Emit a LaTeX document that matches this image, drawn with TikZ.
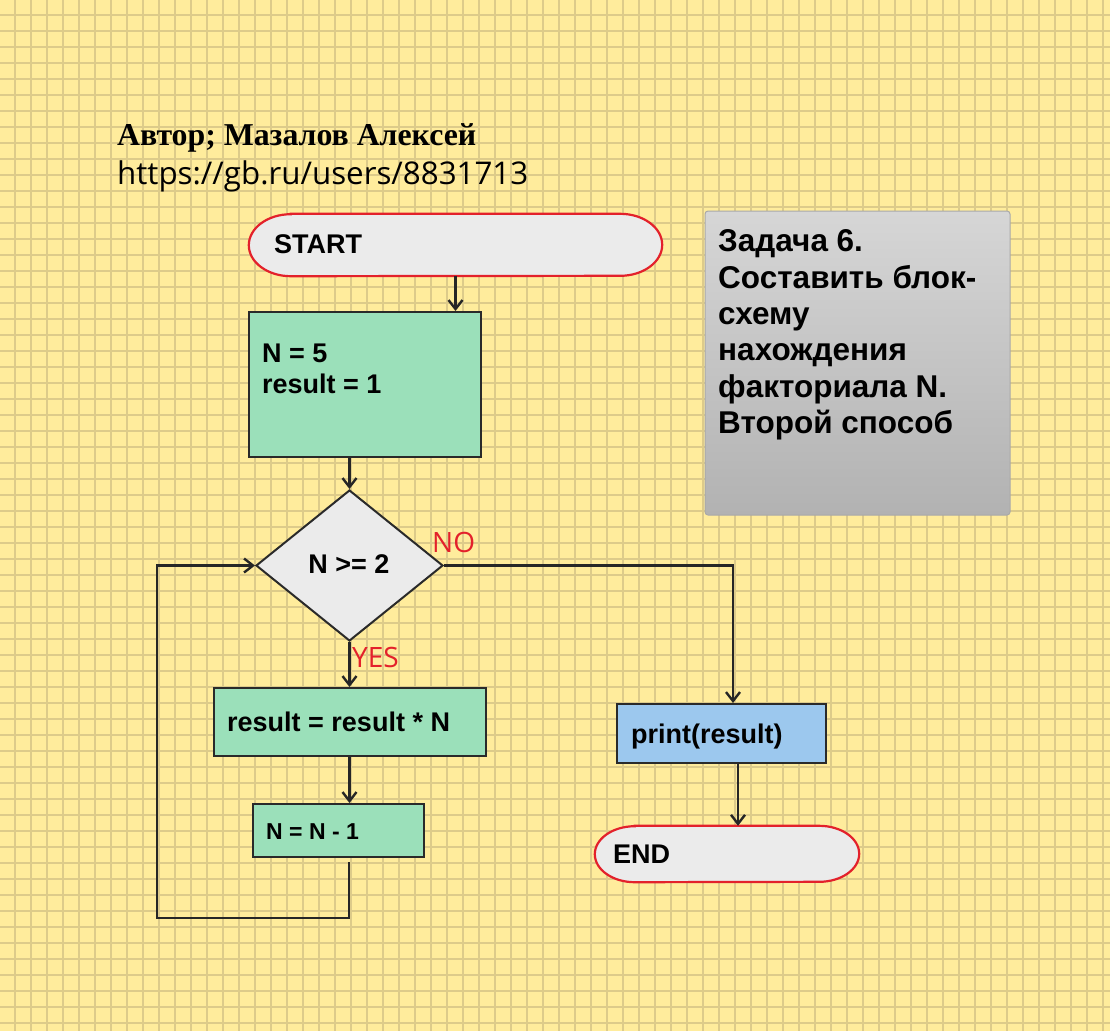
\documentclass[tikz,border=0pt]{standalone}
\usepackage{fontspec}
\setmainfont{Liberation Sans}
\newfontfamily\serifbold{Liberation Serif}
\newfontfamily\handfont{Open Sans}
\usetikzlibrary{shapes.geometric,arrows.meta}
\definecolor{bgyellow}{HTML}{FFEC9C}
\definecolor{gridcol}{HTML}{DDCB8A}
\definecolor{termfill}{HTML}{EBEBEB}
\definecolor{termred}{HTML}{E3212B}
\definecolor{procfill}{HTML}{9BE0BA}
\definecolor{printfill}{HTML}{9CC8EE}
\definecolor{edgecol}{HTML}{2A2A2A}
\definecolor{conncol}{HTML}{262626}
\definecolor{tasktop}{HTML}{D6D6D6}
\definecolor{taskbot}{HTML}{B2B2B2}
\definecolor{taskborder}{HTML}{A9A9A9}
\tikzset{
  gridline/.style={draw=gridcol, line width=2.2pt},
  procbox/.style={draw=edgecol, line width=2pt, fill=procfill, inner sep=0pt},
  printbox/.style={draw=edgecol, line width=2pt, fill=printfill, inner sep=0pt},
  decbox/.style={diamond, draw=edgecol, line width=2pt, fill=termfill, inner sep=0pt},
  termpath/.style={draw=termred, line width=2.2pt, fill=termfill},
  taskbox/.style={draw=taskborder, line width=1pt, rounded corners=3pt, top color=tasktop, bottom color=taskbot, inner sep=0pt},
  conn/.style={draw=conncol, line width=2.4pt, -{Straight Barb[length=9pt,width=14pt]}},
  boxtext/.style={inner sep=0pt, font=\fontsize{27}{31}\selectfont\bfseries, text=black},
  smalltext/.style={inner sep=0pt, font=\fontsize{23}{27}\selectfont\bfseries, text=black},
  tasktext/.style={inner sep=0pt, align=left, font=\fontsize{31.5}{36.4}\selectfont\bfseries, text=black},
  handred/.style={inner sep=0pt, font=\handfont\fontsize{28}{30}\selectfont, text=termred},
}
\begin{document}
\begin{tikzpicture}[x=1pt,y=-1pt]
\useasboundingbox (0,0) rectangle (1110,1031);
\fill[bgyellow] (0,0) rectangle (1110,1031);
\foreach \i in {0,...,68} \draw[gridline] ({15+16*\i},0) -- ({15+16*\i},1031);
\foreach \i in {0,...,63} \draw[gridline] (0,{15+16*\i}) -- (1110,{15+16*\i});

% header
\node[anchor=base west, inner sep=0pt, font=\serifbold\bfseries\fontsize{31.8}{34}\selectfont] (author) at (117,145) {Автор; Мазалов Алексей};
\node[anchor=base west, inner sep=0pt, font=\handfont\fontsize{31.3}{34}\selectfont] (url) at (117,184) {https://gb.ru/users/8831713};

% shapes
\node[rectangle, inner sep=0pt, minimum width=413pt, minimum height=62pt] (start) at (455.5,245) {};
\path[termpath] ([xshift=42pt]start.north west) -- ([xshift=-42pt]start.north east)
   arc[start angle=90, end angle=-90, x radius=42pt, y radius=31pt]
   -- ([xshift=42pt]start.south west)
   arc[start angle=270, end angle=90, x radius=42pt, y radius=31pt] -- cycle;
\node[procbox, minimum width=232pt, minimum height=145pt] (box1) at (365,384.5) {};
\node[decbox, minimum width=187pt, minimum height=151pt] (dec) at (349.5,565.5) {};
\node[procbox, minimum width=272pt, minimum height=68pt] (box2) at (350,722) {};
\node[procbox, minimum width=171pt, minimum height=53pt] (box3) at (338.5,830.5) {};
\node[printbox, minimum width=209pt, minimum height=59pt] (print) at (721.5,733.5) {};
\node[rectangle, inner sep=0pt, minimum width=264pt, minimum height=56pt] (end) at (727,854) {};
\path[termpath] ([xshift=40pt]end.north west) -- ([xshift=-40pt]end.north east)
   arc[start angle=90, end angle=-90, x radius=40pt, y radius=28pt]
   -- ([xshift=40pt]end.south west)
   arc[start angle=270, end angle=90, x radius=40pt, y radius=28pt] -- cycle;
\node[taskbox, minimum width=305pt, minimum height=304pt] (task) at (857.5,363) {};

% texts
\node[boxtext, anchor=base west] (starttext) at (274,253) {START};
\node[boxtext, anchor=base west] (b1a) at (262,362) {N = 5};
\node[boxtext, anchor=base west] (b1b) at (262,393) {result = 1};
\node[boxtext, anchor=base] (dectext) at (349,573) {N >= 2};
\node[boxtext, anchor=base west] (b2text) at (227,731) {result = result * N};
\node[smalltext, anchor=base west] (b3text) at (266,839) {N = N - 1};
\node[boxtext, anchor=base west] (printtext) at (631,743) {print(result)};
\node[boxtext, anchor=base west] (endtext) at (613,863) {END};
\node[tasktext, anchor=north west] (tasklines) at (718,229.5) {Задача 6.\\Составить блок-\\схему\\нахождения\\факториала N.\\Второй способ};
\node[handred, anchor=base west] (nolabel) at (432,552) {NO};
\node[handred, anchor=base west] (yeslabel) at (352,667) {YES};

% connectors
\coordinate (l0) at (349,862);
\coordinate (lc) at (157,918);
\coordinate (nc) at (733,565.5);
\coordinate (pex) at (738,0);
\draw[conn] (start.south) -- (start.south |- box1.north);
\draw[conn] (dec.north |- box1.south) -- (dec.north);
\draw[conn] (dec.south) -- (dec.south |- box2.north);
\draw[conn] (dec.south |- box2.south) -- (dec.south |- box3.north);
\draw[conn] (l0) |- (lc) |- (dec.west);
\draw[conn] (dec.east) -- (nc) -- (nc |- print.north);
\draw[conn] (print.south -| pex) -- (end.north -| pex);
\end{tikzpicture}
\end{document}
